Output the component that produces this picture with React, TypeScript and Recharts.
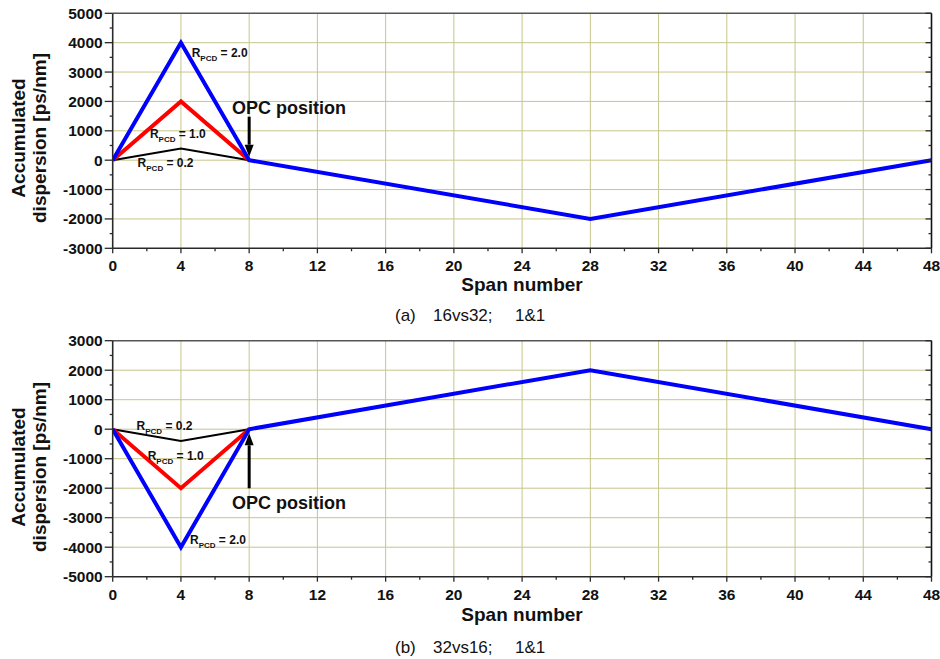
import React from 'react';
import { LineChart, Line, XAxis, YAxis, CartesianGrid, ReferenceDot, ReferenceLine } from 'recharts';

// ---- data ----
const spanTicks = [0, 2, 4, 6, 8, 10, 12, 14, 16, 18, 20, 22, 24, 26, 28, 30, 32, 34, 36, 38, 40, 42, 44, 46, 48];
const spanGrid = [4, 8, 12, 16, 20, 24, 28, 32, 36, 40, 44];
const spans = [0, 4, 8, 28, 48];
const preSpans = [0, 4, 8];

const topBlue = [0, 4000, 0, -2000, 0];
const topRed = [0, 2000, 0];
const topBlack = [0, 400, 0];

const botBlue = [0, -4000, 0, 2000, 0];
const botRed = [0, -2000, 0];
const botBlack = [0, -400, 0];

const topYTicks = [-3000, -2500, -2000, -1500, -1000, -500, 0, 500, 1000, 1500, 2000, 2500, 3000, 3500, 4000, 4500, 5000];
const topYGrid = [-2000, -1000, 0, 1000, 2000, 3000, 4000];
const botYTicks = [-5000, -4500, -4000, -3500, -3000, -2500, -2000, -1500, -1000, -500, 0, 500, 1000, 1500, 2000, 2500, 3000];
const botYGrid = [-4000, -3000, -2000, -1000, 0, 1000, 2000];

// annotation anchors in data coordinates
const topLabels = [
  { x: 4.63, y: 3520, val: '2.0' },
  { x: 2.18, y: 745, val: '1.0' },
  { x: 1.46, y: -220, val: '0.2' },
];
const botLabels = [
  { x: 1.4, y: -27, val: '0.2' },
  { x: 2.05, y: -1044, val: '1.0' },
  { x: 4.53, y: -3890, val: '2.0' },
];
const topOpc = { x: 7.0, y: 1563 };
const botOpc = { x: 7.0, y: -2715 };
const topArrow = [{ x: 8, y: 1480 }, { x: 8, y: 120 }];
const botArrow = [{ x: 8, y: -2003 }, { x: 8, y: -139 }];

const FONT = '"Liberation Sans", Arial, Helvetica, sans-serif';
const AXIS = '#2a2a2a';
const GRID = '#c6c68c';

const toPts = (xs: number[], ys: number[]) => xs.map((x, i) => ({ x, y: ys[i] }));

const XBottomTick = (p: any) => {
  const v = p.payload.value;
  const major = v % 4 === 0;
  return (
    <g>
      <line x1={p.x} x2={p.x} y1={p.y} y2={p.y + (major ? 5 : 3)} stroke={AXIS} strokeWidth={1.3} />
      {major && (
        <text x={p.x} y={p.y + 23} textAnchor="middle" fontFamily={FONT} fontWeight="bold" fontSize={15.5} fill="#111">
          {v}
        </text>
      )}
    </g>
  );
};
const XTopTick = (p: any) => {
  const v = p.payload.value;
  const major = v % 4 === 0;
  return <line x1={p.x} x2={p.x} y1={p.y} y2={p.y + (major ? 6 : 3)} stroke={AXIS} strokeWidth={1.3} />;
};
const YLeftTick = (p: any) => {
  const v = p.payload.value;
  const major = v % 1000 === 0;
  return (
    <g>
      <line x1={p.x - (major ? 8 : 3)} x2={p.x} y1={p.y} y2={p.y} stroke={AXIS} strokeWidth={1.3} />
      {major && (
        <text x={p.x - 10} y={p.y + 5.5} textAnchor="end" fontFamily={FONT} fontWeight="bold" fontSize={15.5} fill="#111">
          {v}
        </text>
      )}
    </g>
  );
};
const YRightTick = (p: any) => {
  const v = p.payload.value;
  const major = v % 1000 === 0;
  return <line x1={p.x - (major ? 6 : 3)} x2={p.x} y1={p.y} y2={p.y} stroke={AXIS} strokeWidth={1.3} />;
};

const RLabel = (val: string) => (props: any) => (
  <text x={props.cx} y={props.cy} fontFamily={FONT} fontWeight="bold" fontSize={12} fill="#111">
    <tspan>R</tspan>
    <tspan fontSize={8} dy={4}>PCD</tspan>
    <tspan dy={-4}>{' = ' + val}</tspan>
  </text>
);
const OpcLabel = (props: any) => (
  <text x={props.cx} y={props.cy} fontFamily={FONT} fontWeight="bold" fontSize={18} fill="#111">
    OPC position
  </text>
);
const ArrowShape = (props: any) => {
  const { x1, y1, x2, y2 } = props;
  const s = y2 > y1 ? 1 : -1;
  const hb = y2 - s * 12;
  return (
    <g>
      <line x1={x1} y1={y1} x2={x2} y2={hb} stroke="#000" strokeWidth={3} />
      <polygon points={`${x2 - 4.5},${hb} ${x2 + 4.5},${hb} ${x2},${y2}`} fill="#000" />
    </g>
  );
};

type PanelProps = {
  height: number;
  margin: { top: number; right: number; bottom: number; left: number };
  yDomain: [number, number];
  yTicks: number[];
  yGrid: number[];
  blue: number[];
  red: number[];
  black: number[];
  labels: { x: number; y: number; val: string }[];
  opc: { x: number; y: number };
  arrow: { x: number; y: number }[];
};

const Panel = (pp: PanelProps) => (
  <LineChart width={940} height={pp.height} margin={pp.margin}>
    <CartesianGrid stroke={GRID} strokeWidth={1} horizontalValues={pp.yGrid} verticalValues={spanGrid} />
    <XAxis
      xAxisId={0}
      type="number"
      dataKey="x"
      domain={[0, 48]}
      ticks={spanTicks}
      interval={0}
      height={1}
      tickSize={0}
      tickMargin={0}
      tickLine={false}
      axisLine={{ stroke: AXIS, strokeWidth: 1.6 }}
      tick={(p: any) => <XBottomTick {...p} />}
      allowDataOverflow
    />
    <XAxis
      xAxisId="top"
      orientation="top"
      type="number"
      domain={[0, 48]}
      ticks={spanTicks}
      interval={0}
      height={1}
      tickSize={0}
      tickMargin={0}
      tickLine={false}
      axisLine={{ stroke: '#555', strokeWidth: 1.6 }}
      tick={(p: any) => <XTopTick {...p} />}
      allowDataOverflow
    />
    <YAxis
      yAxisId={0}
      type="number"
      domain={pp.yDomain}
      ticks={pp.yTicks}
      interval={0}
      width={1}
      tickSize={0}
      tickMargin={0}
      tickLine={false}
      axisLine={{ stroke: AXIS, strokeWidth: 1.6 }}
      tick={(p: any) => <YLeftTick {...p} />}
      allowDataOverflow
    />
    <YAxis
      yAxisId="right"
      orientation="right"
      type="number"
      domain={pp.yDomain}
      ticks={pp.yTicks}
      interval={0}
      width={1}
      tickSize={0}
      tickMargin={0}
      tickLine={false}
      axisLine={{ stroke: '#111', strokeWidth: 1.6 }}
      tick={(p: any) => <YRightTick {...p} />}
      allowDataOverflow
    />
    <Line data={toPts(preSpans, pp.black)} dataKey="y" stroke="#000" strokeWidth={2} dot={false} isAnimationActive={false} />
    <Line data={toPts(preSpans, pp.red)} dataKey="y" stroke="#ff0000" strokeWidth={4} dot={false} isAnimationActive={false} />
    <Line data={toPts(spans, pp.blue)} dataKey="y" stroke="#0000ff" strokeWidth={4} dot={false} isAnimationActive={false} />
    {pp.labels.map((l, i) => (
      <ReferenceDot key={i} x={l.x} y={l.y} r={0} shape={RLabel(l.val)} />
    ))}
    <ReferenceDot x={pp.opc.x} y={pp.opc.y} r={0} shape={OpcLabel} />
    <ReferenceLine segment={pp.arrow} shape={ArrowShape} />
  </LineChart>
);

const TextOverlay = () => (
  <svg width={940} height={659} style={{ position: 'absolute', left: 0, top: 0, pointerEvents: 'none' }}>
    {[138, 467].map((cy, i) => (
      <g key={i} fontFamily={FONT} fontWeight="bold" fontSize={19} fill="#111" textAnchor="middle">
        <text x={25} y={cy} transform={`rotate(-90 25 ${cy})`}>Accumulated</text>
        <text x={46} y={cy} transform={`rotate(-90 46 ${cy})`}>dispersion [ps/nm]</text>
      </g>
    ))}
    <g fontFamily={FONT} fontWeight="bold" fontSize={19} fill="#111" textAnchor="middle">
      <text x={522} y={291}>Span number</text>
      <text x={522} y={621}>Span number</text>
    </g>
    <g fontFamily={FONT} fontSize={17} fill="#111">
      <text x={395} y={321}>(a)</text>
      <text x={433} y={321}>16vs32;</text>
      <text x={515} y={321}>1&amp;1</text>
      <text x={395} y={653}>(b)</text>
      <text x={433} y={653}>32vs16;</text>
      <text x={515} y={653}>1&amp;1</text>
    </g>
  </svg>
);

export default function App() {
  return (
    <div style={{ position: 'absolute', left: 0, top: 0, width: 940, height: 659, background: '#fff' }}>
      <div style={{ position: 'absolute', left: 0, top: 0 }}>
        <Panel
          height={300}
          margin={{ top: 12.3, right: 7.5, bottom: 50.7, left: 111.7 }}
          yDomain={[-3000, 5000]}
          yTicks={topYTicks}
          yGrid={topYGrid}
          blue={topBlue}
          red={topRed}
          black={topBlack}
          labels={topLabels}
          opc={topOpc}
          arrow={topArrow}
        />
      </div>
      <div style={{ position: 'absolute', left: 0, top: 300 }}>
        <Panel
          height={359}
          margin={{ top: 39.7, right: 7.5, bottom: 81.3, left: 111.7 }}
          yDomain={[-5000, 3000]}
          yTicks={botYTicks}
          yGrid={botYGrid}
          blue={botBlue}
          red={botRed}
          black={botBlack}
          labels={botLabels}
          opc={botOpc}
          arrow={botArrow}
        />
      </div>
      <TextOverlay />
    </div>
  );
}
